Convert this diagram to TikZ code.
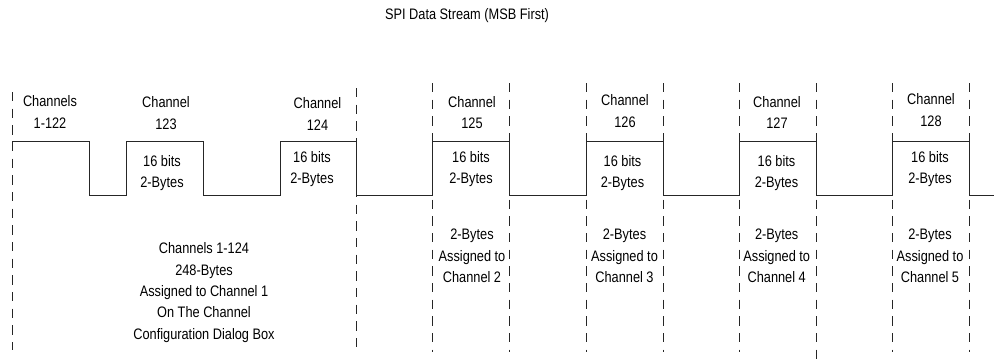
\documentclass[tikz,border=0pt]{standalone}
\usepackage{fontspec}
\setmainfont{Liberation Sans}[FakeStretch=0.84]

\begin{document}
\begin{tikzpicture}[x=0.75pt,y=-0.75pt,
  lbl/.style={font=\fontsize{11.4}{16}\selectfont, align=center, inner sep=0pt},
  wave/.style={draw=black!85, line width=0.75pt},
  guide/.style={draw=black!85, line width=0.75pt, dash pattern=on 7pt off 5.5pt}]
\useasboundingbox (0,0) rectangle (994,362);

% signal levels
\def\hi{141}
\def\lo{195}

% dashed slot boundaries: x / top / bottom
\foreach \gx/\gt/\gb [count=\i] in {12/92/350, 356/88/350, 432.7/83/352, 509/83/352,
    586/83/352, 663/83/352, 739/83/352, 816/83/362, 892/83/352, 969/83/352} {
  \coordinate (gt\i) at (\gx,\gt);
  \coordinate (gb\i) at (\gx,\gb);
  \draw[guide] (gt\i) -- (gb\i);
}

% serial data waveform
\draw[wave] (12,\hi) -- (89,\hi) -- (89,\lo) -- (126.7,\lo) -- (126.7,\hi) -- (203,\hi)
  -- (203,\lo) -- (280,\lo) -- (280,\hi) -- (356,\hi) -- (356,\lo) -- (432.7,\lo)
  -- (432.7,\hi) -- (509,\hi) -- (509,\lo) -- (586,\lo) -- (586,\hi) -- (663,\hi)
  -- (663,\lo) -- (739,\lo) -- (739,\hi) -- (816,\hi) -- (816,\lo) -- (892,\lo)
  -- (892,\hi) -- (969,\hi) -- (969,\lo) -- (994,\lo);

% title
\node[lbl] (title) at (467,16) {SPI Data Stream (MSB First)};

% channel headings
\node[lbl] (c1)   at (50,112)    {Channels\\1-122};
\node[lbl] (c123) at (166,113)   {Channel\\123};
\node[lbl] (c124) at (317.5,114) {Channel\\124};
\node[lbl] (c125) at (472,112.5) {Channel\\125};
\node[lbl] (c126) at (625,111)   {Channel\\126};
\node[lbl] (c127) at (777,112.5) {Channel\\127};
\node[lbl] (c128) at (931,110)   {Channel\\128};

% pulse contents
\node[lbl] (b123) at (162,173)   {16 bits\\2-Bytes};
\node[lbl] (b124) at (312,169)   {16 bits\\2-Bytes};
\node[lbl] (b125) at (471,169)   {16 bits\\2-Bytes};
\node[lbl] (b126) at (622.5,173) {16 bits\\2-Bytes};
\node[lbl] (b127) at (776.5,173) {16 bits\\2-Bytes};
\node[lbl] (b128) at (930,169)   {16 bits\\2-Bytes};

% channel assignments
\node[lbl] (a1) at (204,292.5) {Channels 1-124\\248-Bytes\\Assigned to Channel 1\\On The Channel\\Configuration Dialog Box};
\node[lbl] (a2) at (472,256)   {2-Bytes\\Assigned to\\Channel 2};
\node[lbl] (a3) at (624.5,256) {2-Bytes\\Assigned to\\Channel 3};
\node[lbl] (a4) at (776.7,256) {2-Bytes\\Assigned to\\Channel 4};
\node[lbl] (a5) at (930,256)   {2-Bytes\\Assigned to\\Channel 5};
\end{tikzpicture}
\end{document}
